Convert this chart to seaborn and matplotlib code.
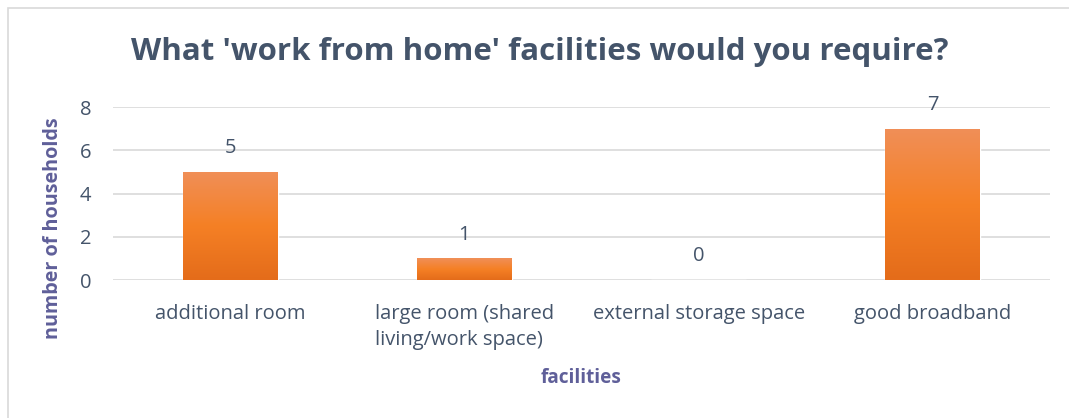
import numpy as np
import pandas as pd
import matplotlib
matplotlib.use("Agg")
import matplotlib.pyplot as plt
from matplotlib.colors import LinearSegmentedColormap
from matplotlib.patches import Rectangle
import seaborn as sns

# Survey results
facilities = ["additional room", "large room (shared\nliving/work space)",
              "external storage space", "good broadband"]
households = [5, 1, 0, 7]
y_ticks = [0, 2, 4, 6, 8]

title_text = "What 'work from home' facilities would you require?"
x_label = "facilities"
y_label = "number of households"

TEXT = "#44546A"
AXIS_LABEL = "#5F5F99"
GRID = "#D9D9D9"

sns.set_theme(style="white")
plt.rcParams["font.family"] = ["Open Sans", "DejaVu Sans"]

df = pd.DataFrame({"facility": facilities, "count": households})

fig = plt.figure(figsize=(10.69, 4.18), dpi=100)
ax = fig.add_axes([0.106, 0.330, 0.876, 0.414])

sns.barplot(data=df, x="facility", y="count", color="#F58025",
            width=0.405, ax=ax, zorder=2)

# vertical orange gradient on each bar
cmap = LinearSegmentedColormap.from_list(
    "orange_grad", ["#E46C1A", "#F58025", "#F08F58"])
grad = np.linspace(0, 1, 256).reshape(-1, 1)
for patch in ax.patches:
    h = patch.get_height()
    if h <= 0:
        continue
    x0 = patch.get_x()
    w = patch.get_width()
    im = ax.imshow(grad, extent=[x0, x0 + w, 0, h], origin="lower",
                   cmap=cmap, aspect="auto", zorder=3)
    im.set_clip_path(patch)
    patch.set_facecolor("none")

ax.set_xlim(-0.5, len(facilities) - 0.5)
ax.set_ylim(0, 8)
ax.set_yticks(y_ticks)
ax.yaxis.grid(True, color=GRID, linewidth=1.2, zorder=0)
ax.set_axisbelow(True)
for s in ax.spines.values():
    s.set_visible(False)
ax.tick_params(axis="both", length=0, labelsize=14.5, colors=TEXT)
ax.tick_params(axis="y", pad=16)
ax.tick_params(axis="x", pad=17)
for lbl in ax.get_xticklabels():
    lbl.set_multialignment("left")
    lbl.set_linespacing(1.45)

# value labels above bars
for i, v in enumerate(households):
    ax.annotate(str(v), (i, v), xytext=(0, 17), textcoords="offset points",
                ha="center", va="center", fontsize=14.5, color=TEXT)

ax.set_xlabel(x_label, fontsize=13.7, fontweight="bold", color=AXIS_LABEL)
ax.set_ylabel(y_label, fontsize=14.2, fontweight="bold", color=AXIS_LABEL)
ax.xaxis.set_label_coords(0.5, -0.566)
ax.xaxis.label.set_va("center")
ax.yaxis.set_label_coords(-0.064, 0.30)
ax.yaxis.label.set_va("center")

fig.text(0.505, 0.875, title_text, ha="center", va="center", fontsize=22.5,
         fontweight="bold", color=TEXT)

# light chart-area border
fig.patches.append(Rectangle((8 / 1069, -0.1), 1.2, 1.1 - 8 / 418,
                             transform=fig.transFigure, fill=False,
                             edgecolor="#D9D9D9", linewidth=1.2))

fig.savefig("out.png", dpi=100)
